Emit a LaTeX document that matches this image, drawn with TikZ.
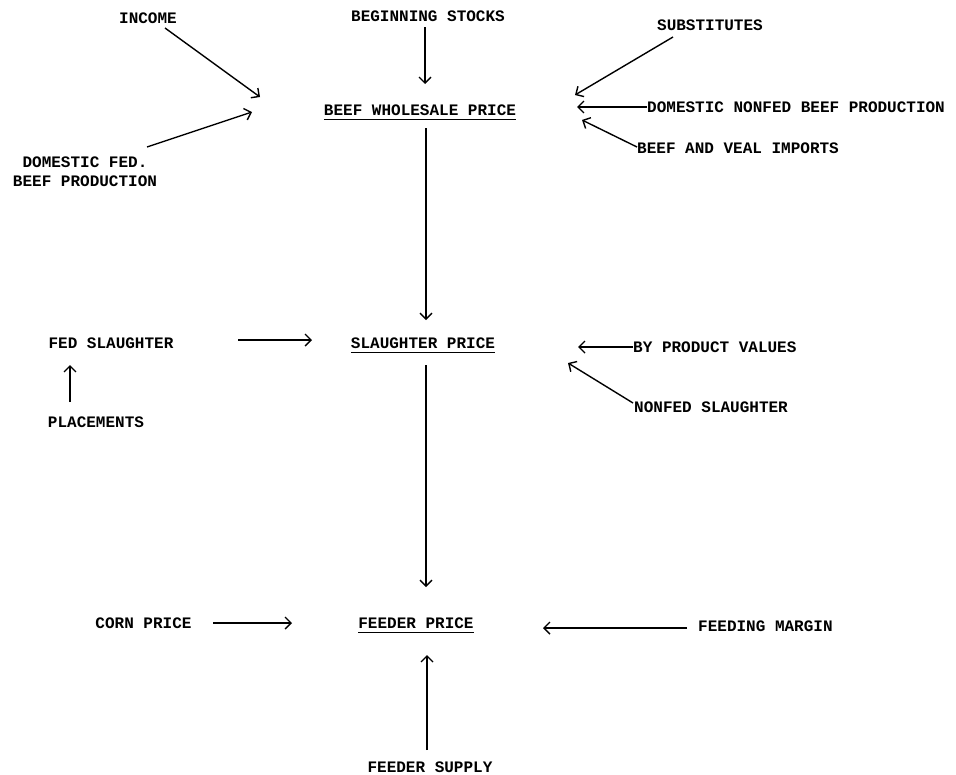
\documentclass[tikz,border=0pt]{standalone}
\usepackage{fontspec}
\setmonofont{Liberation Mono}
\usetikzlibrary{arrows.meta}
\tikzset{
  lbl/.style={inner sep=0pt, font=\ttfamily\bfseries\fontsize{16}{19}\selectfont},
  arr/.style={line width=1.4pt, -{Straight Barb[length=6pt,width=12pt]}},
  uline/.style={line width=1.1pt}
}
\begin{document}
\begin{tikzpicture}[x=1pt,y=-1pt]
\useasboundingbox[fill=white] (0,0) rectangle (956,774);
% nodes
\node[lbl] (income) at (148,18) {INCOME};
\node[lbl] (bs) at (428,16) {BEGINNING STOCKS};
\node[lbl] (subs) at (710,25) {SUBSTITUTES};
\node[lbl] (bwp) at (420,110) {BEEF WHOLESALE PRICE};
\node[lbl, align=center] (dfed) at (85,172) {DOMESTIC FED.\\BEEF PRODUCTION};
\node[lbl, anchor=west] (nonfed) at (647,107) {DOMESTIC NONFED BEEF PRODUCTION};
\node[lbl, anchor=west] (imports) at (637,148) {BEEF AND VEAL IMPORTS};
\node[lbl] (fedsl) at (111,343) {FED SLAUGHTER};
\node[lbl] (sp) at (423,343) {SLAUGHTER PRICE};
\node[lbl, anchor=west] (byprod) at (633,347) {BY PRODUCT VALUES};
\node[lbl] (plac) at (96,422) {PLACEMENTS};
\node[lbl, anchor=west] (nfsl) at (634,407) {NONFED SLAUGHTER};
\node[lbl] (corn) at (143.5,623) {CORN PRICE};
\node[lbl] (fp) at (416,623) {FEEDER PRICE};
\node[lbl, anchor=west] (fm) at (698,626) {FEEDING MARGIN};
\node[lbl] (supply) at (430,767) {FEEDER SUPPLY};
% underlines
\draw[uline] ([yshift=-3.5pt]bwp.south west) -- ([yshift=-3.5pt]bwp.south east);
\draw[uline] ([yshift=-3.5pt]sp.south west) -- ([yshift=-3.5pt]sp.south east);
\draw[uline] ([yshift=-3.5pt]fp.south west) -- ([yshift=-3.5pt]fp.south east);
% arrow end points
\coordinate (bwpIn1) at (260,97);
\coordinate (bwpIn2) at (252,112);
\coordinate (bwpTop) at (425,84);
\coordinate (bwpR1) at (575,95);
\coordinate (bwpR2) at (577,107);
\coordinate (bwpR3) at (582,120);
\coordinate (spTop) at (426,320);
\coordinate (spL) at (312,340);
\coordinate (fedslB) at (70,365);
\coordinate (spR1) at (578,347);
\coordinate (spR2) at (568,363);
\coordinate (fpTop) at (426,587);
\coordinate (fpL) at (292,623);
\coordinate (fpR) at (543,628);
\coordinate (fpB) at (427,655);
% connectors
\draw[arr] ([shift={(17,10)}]income.center) -- (bwpIn1);
\draw[arr] ([shift={(62,-25)}]dfed.center) -- (bwpIn2);
\draw[arr] ([shift={(-3,11)}]bs.center) -- (bwpTop);
\draw[arr] ([shift={(-37,12)}]subs.center) -- (bwpR1);
\draw[arr] (nonfed.west) -- (bwpR2);
\draw[arr] ([shift={(0,-1)}]imports.west) -- (bwpR3);
\draw[arr] ([shift={(6,18)}]bwp.center) -- (spTop);
\draw[arr] ([shift={(127,-3)}]fedsl.center) -- (spL);
\draw[arr] ([shift={(-26,-20)}]plac.center) -- (fedslB);
\draw[arr] (byprod.west) -- (spR1);
\draw[arr] ([shift={(-1,-4)}]nfsl.west) -- (spR2);
\draw[arr] ([shift={(3,22)}]sp.center) -- (fpTop);
\draw[arr] ([shift={(69.5,0)}]corn.center) -- (fpL);
\draw[arr] ([shift={(-11,2)}]fm.west) -- (fpR);
\draw[arr] ([shift={(-3,-17)}]supply.center) -- (fpB);
\end{tikzpicture}
\end{document}
